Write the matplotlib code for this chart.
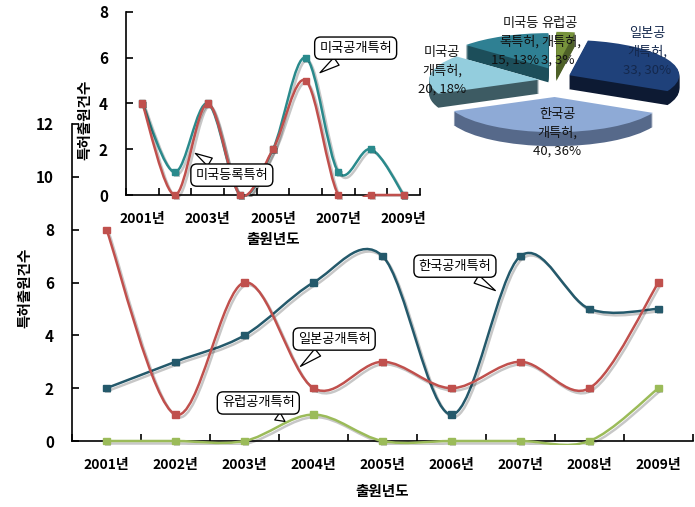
import numpy as np
import matplotlib
matplotlib.use('Agg')
import matplotlib.pyplot as plt
from matplotlib.path import Path
from matplotlib.patches import PathPatch, Rectangle
from matplotlib.transforms import Affine2D
import matplotlib.patheffects as pe

plt.rcParams['font.family'] = ['Noto Sans CJK KR', 'DejaVu Sans']

# ---------------- data ----------------
years = ['2001년', '2002년', '2003년', '2004년', '2005년', '2006년', '2007년', '2008년', '2009년']
korea_open = [2, 3, 4, 6, 7, 1, 7, 5, 5]
japan_open = [8, 1, 6, 2, 3, 2, 3, 2, 6]
europe_open = [0, 0, 0, 1, 0, 0, 0, 0, 2]
us_open = [4, 1, 4, 0, 2, 6, 1, 2, 0]
us_registered = [4, 0, 4, 0, 2, 5, 0, 0, 0]

pie_names = ['유럽공\n개특허,', '일본공\n개특허,', '한국공\n개특허,', '미국공\n개특허,', '미국등\n록특허,']
pie_values = [3, 33, 40, 20, 15]
pie_pcts = ['3%', '30%', '36%', '18%', '13%']

# ---------------- style ----------------
C_KOREA = '#24596b'
C_JAPAN = '#c0504d'
C_EUROPE = '#9bbb59'
C_USOPEN = '#2a8a8c'
C_USREG = '#c0504d'

fig = plt.figure(figsize=(6.95, 5.07), dpi=100)
W, H = 695, 507


def px_axes(l, t, r, b):
    return fig.add_axes([l / W, (H - b) / H, (r - l) / W, (b - t) / H])


def smooth_path(xs, ys):
    P = np.column_stack([xs, ys]).astype(float)
    n = len(P)
    verts = [P[0]]
    codes = [Path.MOVETO]
    for i in range(n - 1):
        p0 = P[i - 1] if i > 0 else P[i]
        p1 = P[i]
        p2 = P[i + 1]
        p3 = P[i + 2] if i + 2 < n else P[i + 1]
        verts += [p1 + (p2 - p0) / 6.0, p2 - (p3 - p1) / 6.0, p2]
        codes += [Path.CURVE4] * 3
    return Path(verts, codes)


shadow = [pe.SimpleLineShadow(offset=(1.5, -1.8), shadow_color='k', alpha=0.22), pe.Normal()]


def draw_series(ax, y, color):
    x = np.arange(1, len(y) + 1)
    clip = Rectangle((0, -0.012), 1, 1.05, transform=ax.transAxes)
    patch = PathPatch(smooth_path(x, y), fill=False, ec=color, lw=1.8,
                      capstyle='round', joinstyle='round', zorder=3)
    patch.set_path_effects(shadow)
    ax.add_patch(patch)
    patch.set_clip_path(clip)
    ax.plot(x, y, 's', color=color, ms=4.5, clip_on=False, zorder=4,
            path_effects=[pe.SimplePatchShadow(offset=(1.2, -1.2), alpha=0.25), pe.Normal()])


def style_axes(ax, ymax, labels_every):
    for s in ['top', 'right']:
        ax.spines[s].set_visible(False)
    for s in ['left', 'bottom']:
        ax.spines[s].set_linewidth(1.2)
    ax.set_xlim(0.5, len(years) + 0.5)
    ax.set_ylim(0, ymax)
    ax.set_yticks(np.arange(0, ymax + 1, 2))
    idx = np.arange(1, len(years) + 1)[::labels_every]
    ax.set_xticks(idx, [years[i - 1] for i in idx], fontweight='bold', fontsize=10)
    ax.set_xticks(np.arange(0.5, len(years) + 1), minor=True)
    for lab in ax.get_yticklabels():
        lab.set_fontweight('bold')
    ax.tick_params(axis='y', direction='in', length=5, width=1.2, pad=13, labelsize=11)
    ax.tick_params(axis='x', which='major', length=0, pad=12)
    ax.tick_params(axis='x', which='minor', direction='in', length=5, width=1.2)


box = dict(boxstyle='round,pad=0.35,rounding_size=0.45', fc='white', ec='black', lw=1.0)
arrow = dict(arrowstyle='wedge,tail_width=0.7,shrink_factor=0.5', fc='white', ec='black', lw=0.9)

# ---------------- main chart ----------------
ax = px_axes(72, 124, 693, 441)
ax.set_facecolor('none')
style_axes(ax, 12, 1)
draw_series(ax, korea_open, C_KOREA)
draw_series(ax, japan_open, C_JAPAN)
draw_series(ax, europe_open, C_EUROPE)
ax.set_xlabel('출원년도', fontsize=10.5, fontweight='bold', labelpad=8)
ax.set_ylabel('특허출원건수', fontsize=10.5, fontweight='bold')
ax.yaxis.set_label_coords(-0.064, 0.483)

for txt, xy, xyt in [('일본공개특허', (3.78, 2.76), (4.30, 3.86)),
                     ('유럽공개특허', (3.62, 0.68), (3.20, 1.44)),
                     ('한국공개특허', (6.67, 5.64), (6.05, 6.62))]:
    ax.annotate(txt, xy=xy, xytext=xyt, ha='center', va='center', fontsize=9.5,
                bbox=box, arrowprops=arrow, zorder=6, annotation_clip=False)

# ---------------- inset chart ----------------
ax2 = px_axes(126, 12, 420, 195)
ax2.set_facecolor('none')
style_axes(ax2, 8, 2)
draw_series(ax2, us_open, C_USOPEN)
draw_series(ax2, us_registered, C_USREG)
ax2.set_xlabel('출원년도', fontsize=10.5, fontweight='bold', labelpad=4)
ax2.set_ylabel('특허출원건수', fontsize=10.5, fontweight='bold')
ax2.yaxis.set_label_coords(-0.113, 0.41)
for txt, xy, xyt in [('미국공개특허', (6.37, 5.28), (7.53, 6.42)),
                     ('미국등록특허', (2.55, 1.88), (3.74, 0.87))]:
    ax2.annotate(txt, xy=xy, xytext=xyt, ha='center', va='center', fontsize=9.5,
                 bbox=box, arrowprops=arrow, zorder=6, annotation_clip=False)

# ---------------- 3D-like pie ----------------
pax = px_axes(415, 0, 695, 160)
top_colors = ['#77933c', '#1f417a', '#8eaad6', '#93cddd', '#2f8093']
side_colors = ['#4e6128', '#0d1a33', '#56698a', '#3d5b63', '#1c4e5a']
cx, cy, k, depth, R = 555, 82, 0.32, 14, 110
ex, ey = 16, 15          # explode offsets in pixels (horizontal, vertical)
for d in list(range(depth, 0, -1)) + [0]:
    cols = side_colors if d > 0 else top_colors
    wedges, _ = pax.pie(pie_values, radius=R, center=(0, 0), startangle=90,
                        counterclock=False, colors=cols, wedgeprops=dict(lw=0))
    for w in wedges:
        mid = np.deg2rad((w.theta1 + w.theta2) / 2)
        w.set_center((ex * np.cos(mid), ey / k * np.sin(mid)))
        w.set_transform(Affine2D().scale(1, k).translate(cx, -cy - d) + pax.transData)
pax.set_aspect('auto')
pax.set_xlim(415, 695)
pax.set_ylim(-160, 0)
pax.axis('off')

lab_kw = dict(fontsize=9.5, linespacing=1.5, zorder=10, va='center')
texts = [f'{n}\n{v}, {p}' for n, v, p in zip(pie_names, pie_values, pie_pcts)]
pax.text(541, -42, texts[0], ha='left', multialignment='left', color='#111111', **lab_kw)
pax.text(647, -52, texts[1], ha='center', multialignment='center', color='#14284d', **lab_kw)
pax.text(557, -133, texts[2], ha='center', multialignment='center', color='#111111', **lab_kw)
pax.text(442, -71, texts[3], ha='center', multialignment='center', color='#111111', **lab_kw)
pax.text(539, -42, texts[4], ha='right', multialignment='right', color='#111111', **lab_kw)

fig.savefig('out.png', dpi=100)
